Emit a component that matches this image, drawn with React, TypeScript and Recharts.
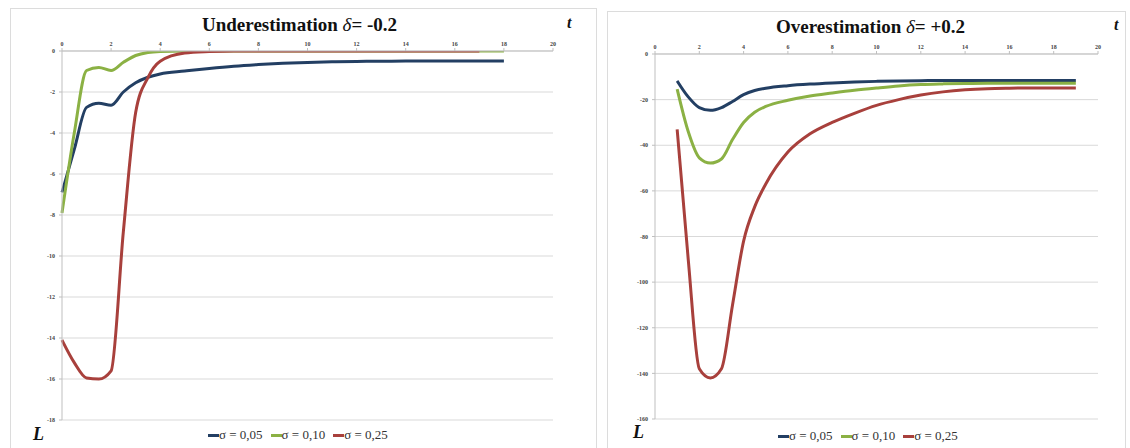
import React from 'react'
import { LineChart, Line, XAxis, YAxis, CartesianGrid } from 'recharts'

// === UNDERESTIMATION (delta = -0.2) ===
const tUnder = [0, 0.5, 1, 1.5, 2, 2.5, 3, 3.5, 4, 5, 6, 7, 8, 9, 10, 11, 12, 13, 14, 15, 16, 17, 18]
const under05 = [-6.9, -4.8, -2.75, -2.55, -2.65, -2.0, -1.55, -1.28, -1.12, -0.98, -0.85, -0.74, -0.66, -0.6, -0.56, -0.53, -0.51, -0.5, -0.49, -0.49, -0.49, -0.49, -0.49]
const under10 = [-7.9, -4.0, -0.95, -0.8, -0.95, -0.55, -0.22, -0.07, -0.02, 0, 0, 0, 0, 0, 0, 0, 0, 0, 0, 0, 0, 0, 0]
const under25 = [-14.1, -15.2, -15.95, -16.0, -15.6, -8.8, -3.0, -1.3, -0.5, -0.1, -0.03, 0, 0, 0, 0, 0, 0, 0, 0, 0, 0, 0, null]
const underTicksY = [0, -2, -4, -6, -8, -10, -12, -14, -16, -18]

// === OVERESTIMATION (delta = +0.2) ===
const tOver = [1, 1.5, 2, 2.5, 3, 3.5, 4, 4.5, 5, 6, 7, 8, 9, 10, 11, 12, 13, 14, 15, 16, 17, 18, 19]
const over05 = [-11.8, -18.8, -23.5, -24.7, -23.5, -20.8, -17.8, -16.0, -15.0, -13.9, -13.2, -12.7, -12.3, -12.0, -11.8, -11.7, -11.6, -11.6, -11.6, -11.6, -11.6, -11.6, -11.6]
const over10 = [-15.4, -34, -45.5, -47.8, -46, -37.5, -30, -25.5, -23, -20.3, -18.4, -17.1, -15.9, -14.9, -14.0, -13.4, -13.1, -12.9, -12.8, -12.8, -12.8, -12.8, -12.8]
const over25 = [-33, -90, -138, -142, -138, -110, -82, -67, -57, -43, -35, -30, -26, -22.5, -20, -18, -16.6, -15.7, -15.2, -15.0, -14.9, -14.9, -14.9]
const overTicksY = [0, -20, -40, -60, -80, -100, -120, -140, -160]

const ticksX = [0, 2, 4, 6, 8, 10, 12, 14, 16, 18, 20]
const sigmaLabels = ['σ = 0,05', 'σ = 0,10', 'σ = 0,25']
const colors = ['#233F63', '#8BB144', '#A8403C']

const serif = '"Liberation Serif", "DejaVu Serif", serif'
const tickStyle = { fontSize: 6, fontWeight: 700, fill: '#444', fontFamily: serif }

function Legend({ left, top }: any) {
  return (
    <div style={{ position: 'absolute', left, top, display: 'flex', alignItems: 'center', fontFamily: serif, fontSize: 13, color: '#333' }}>
      {sigmaLabels.map((s, i) => (
        <div key={s} style={{ display: 'flex', alignItems: 'center', marginRight: 8 }}>
          <span style={{ display: 'inline-block', width: 11, height: 3, background: colors[i], marginRight: 0 }} />
          <span>{s}</span>
        </div>
      ))}
    </div>
  )
}

function Panel({ data, ticksY, domainY, left, width, margin, yWidth }: any) {
  return (
    <div style={{ position: 'absolute', left, top: 0 }}>
      <LineChart width={width} height={448} data={data} margin={margin}>
        <CartesianGrid vertical={false} stroke="#d9d9d9" />
        <XAxis
          dataKey="t"
          type="number"
          orientation="top"
          domain={[0, 20]}
          ticks={ticksX}
          tick={tickStyle}
          tickSize={3}
          tickMargin={2}
          height={14}
          stroke="#bfbfbf"
        />
        <YAxis
          type="number"
          domain={domainY}
          ticks={ticksY}
          tick={tickStyle}
          tickSize={3}
          tickMargin={4}
          width={yWidth}
          stroke="#bfbfbf"
          allowDataOverflow
        />
        <Line dataKey="s05" stroke={colors[0]} strokeWidth={3} dot={false} type="monotone" isAnimationActive={false} />
        <Line dataKey="s10" stroke={colors[1]} strokeWidth={3} dot={false} type="monotone" isAnimationActive={false} />
        <Line dataKey="s25" stroke={colors[2]} strokeWidth={3} dot={false} type="monotone" isAnimationActive={false} />
      </LineChart>
    </div>
  )
}

export default function App() {
  const underData = tUnder.map((t, i) => ({ t, s05: under05[i], s10: under10[i], s25: under25[i] }))
  const overData = tOver.map((t, i) => ({ t, s05: over05[i], s10: over10[i], s25: over25[i] }))

  const titleStyle: any = { position: 'absolute', fontFamily: serif, fontWeight: 700, fontSize: 19, color: '#111', whiteSpace: 'nowrap' }
  const axisName: any = { position: 'absolute', fontFamily: serif, fontWeight: 700, fontStyle: 'italic', color: '#111' }

  return (
    <div style={{ position: 'absolute', left: 0, top: 0, width: 1130, height: 448, background: '#fff', overflow: 'hidden' }}>
      <div style={{ position: 'absolute', left: 10, top: 8, width: 585, height: 460, border: '1px solid #dcdcdc' }} />
      <div style={{ position: 'absolute', left: 607, top: 11, width: 517, height: 460, border: '1px solid #dcdcdc' }} />

      <Panel
        data={underData}
        ticksY={underTicksY}
        domainY={[-18, 0]}
        left={0}
        width={600}
        yWidth={20}
        margin={{ top: 37, right: 47, bottom: 28, left: 42 }}
      />
      <Panel
        data={overData}
        ticksY={overTicksY}
        domainY={[-160, 0]}
        left={600}
        width={530}
        yWidth={24}
        margin={{ top: 40, right: 32, bottom: 29, left: 31 }}
      />

      <div style={{ ...titleStyle, left: 202, top: 14 }}>
        Underestimation <span style={{ fontStyle: 'italic', fontWeight: 400 }}>δ</span>= -0.2
      </div>
      <div style={{ ...titleStyle, left: 776, top: 16 }}>
        Overestimation <span style={{ fontStyle: 'italic', fontWeight: 400 }}>δ</span>= +0.2
      </div>

      <div style={{ ...axisName, left: 567, top: 14, fontSize: 16 }}>t</div>
      <div style={{ ...axisName, left: 1114, top: 16, fontSize: 16 }}>t</div>
      <div style={{ ...axisName, left: 33, top: 424, fontSize: 18 }}>L</div>
      <div style={{ ...axisName, left: 633, top: 422, fontSize: 18 }}>L</div>

      <Legend left={208} top={427} />
      <Legend left={778} top={428} />
    </div>
  )
}
